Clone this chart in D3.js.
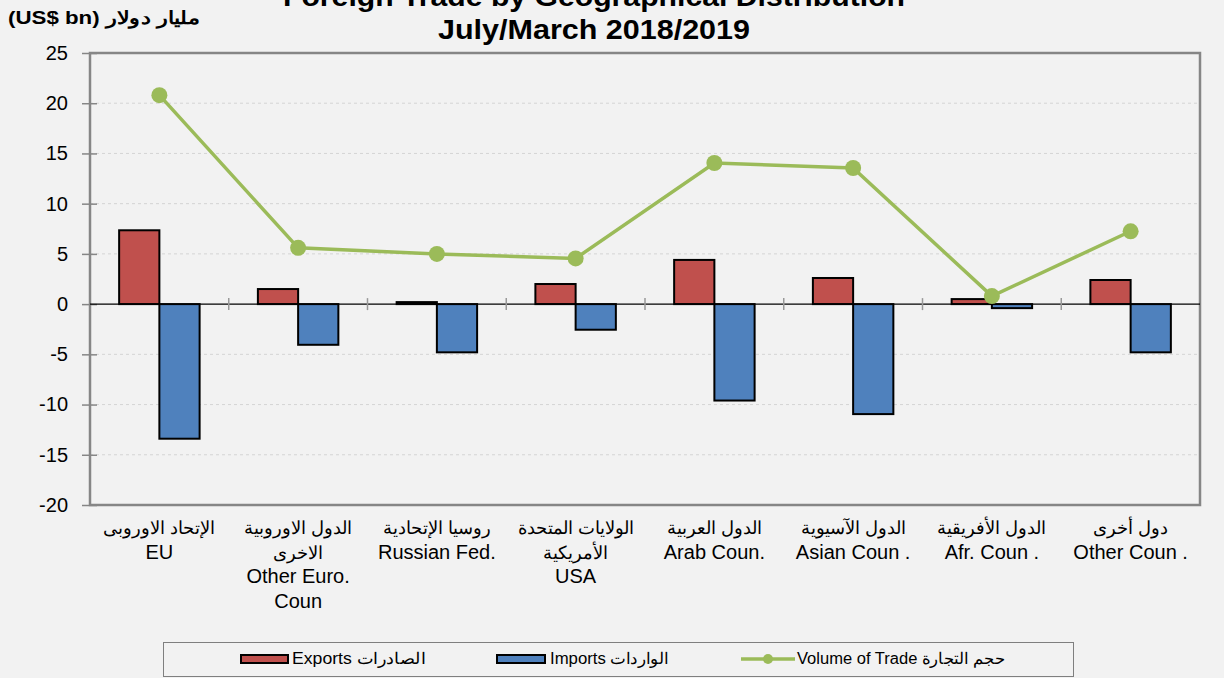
<!DOCTYPE html>
<html>
<head>
<meta charset="utf-8">
<script src="https://cdn.jsdelivr.net/npm/d3@7"></script>
<style>
  html, body { margin: 0; padding: 0; background: #f2f2f2; }
  svg { display: block; font-family: "Liberation Sans", Arial, sans-serif; }
</style>
</head>
<body>
<svg id="chart" width="1224" height="678"></svg>
<script>
// ---- data ----
const categories = ['EU', 'Other Euro', 'Russia', 'USA', 'Arab', 'Asian', 'Afr', 'Other'];
const categoryLabels = [
    ['الإتحاد الاوروبى', 'EU'],
    ['الدول الاوروبية', 'الاخرى', 'Other Euro.', 'Coun'],
    ['روسيا الإتحادية', 'Russian Fed.'],
    ['الولايات المتحدة', 'الأمريكية', 'USA'],
    ['الدول العربية', 'Arab Coun.'],
    ['الدول الآسيوية', 'Asian Coun .'],
    ['الدول الأفريقية', 'Afr. Coun .'],
    ['دول أخرى', 'Other Coun .']
];
const exportsVals = [7.35, 1.5, 0.2, 2.0, 4.4, 2.6, 0.5, 2.4];
const importsVals = [-13.4, -4.05, -4.8, -2.55, -9.6, -10.95, -0.4, -4.8];
const volumeVals = [20.8, 5.6, 5.0, 4.55, 14.05, 13.55, 0.8, 7.25];
const yTicks = [25, 20, 15, 10, 5, 0, -5, -10, -15, -20];

const colors = { exports: '#c0504d', imports: '#4f81bd', volume: '#9bbb59' };
const arabic = /[\u0600-\u06FF]/;

// ---- layout ----
const svg = d3.select('#chart');
const plot = { left: 90, right: 1200, top: 53, bottom: 505 };

const x = d3.scaleBand().domain(categories).range([plot.left, plot.right]).padding(0);
const y = d3.scaleLinear().domain([-20, 25]).range([plot.bottom, plot.top]);
const barW = x.bandwidth() * 0.29;
const cx = d => x(d) + x.bandwidth() / 2;

// title (first line runs off the top, as in the source)
const title = svg.append('g').attr('font-weight', 'bold').attr('font-size', 27)
    .attr('text-anchor', 'middle').attr('fill', '#000');
title.append('text').attr('x', 594).attr('y', 6)
    .attr('textLength', 622).attr('lengthAdjust', 'spacingAndGlyphs')
    .text('Foreign Trade by Geographical Distribution');
title.append('text').attr('x', 594).attr('y', 39)
    .attr('textLength', 312).attr('lengthAdjust', 'spacingAndGlyphs')
    .text('July/March 2018/2019');

// unit label
svg.append('text').attr('x', 8).attr('y', 24)
    .attr('font-size', 18).attr('font-weight', 'bold')
    .attr('textLength', 192).attr('lengthAdjust', 'spacingAndGlyphs')
    .text('(US$ bn) مليار دولار');

// gridlines
svg.append('g').selectAll('line').data(yTicks.filter(t => t !== 0 && t !== 25 && t !== -20)).join('line')
    .attr('x1', plot.left).attr('x2', plot.right)
    .attr('y1', d => y(d)).attr('y2', d => y(d))
    .attr('stroke', '#d4d4d4').attr('stroke-width', 1).attr('stroke-dasharray', '3,3');

// y axis
const yAxis = svg.append('g').attr('transform', `translate(${plot.left},0)`)
    .call(d3.axisLeft(y).tickValues(yTicks).tickSize(8).tickPadding(14).tickFormat(d => String(d)));
yAxis.select('.domain').remove();
yAxis.selectAll('.tick line').attr('stroke', '#868686').attr('stroke-width', 1.5).attr('x2', -8).attr('x1', 7);
yAxis.selectAll('.tick text').attr('font-size', 20).attr('fill', '#000')
    .attr('font-family', '"Liberation Sans", Arial, sans-serif');

// plot border
svg.append('rect').attr('x', plot.left).attr('y', plot.top)
    .attr('width', plot.right - plot.left).attr('height', plot.bottom - plot.top)
    .attr('fill', 'none').attr('stroke', '#868686').attr('stroke-width', 2.5);

// bars
const bars = svg.append('g').attr('stroke', '#000').attr('stroke-width', 2);
bars.selectAll('rect.exp').data(categories).join('rect').attr('class', 'exp')
    .attr('x', d => cx(d) - barW)
    .attr('width', barW)
    .attr('y', (d, i) => y(Math.max(0, exportsVals[i])))
    .attr('height', (d, i) => Math.abs(y(exportsVals[i]) - y(0)))
    .attr('fill', colors.exports);
bars.selectAll('rect.imp').data(categories).join('rect').attr('class', 'imp')
    .attr('x', d => cx(d))
    .attr('width', barW)
    .attr('y', (d, i) => y(Math.max(0, importsVals[i])))
    .attr('height', (d, i) => Math.abs(y(importsVals[i]) - y(0)))
    .attr('fill', colors.imports);

// zero line + category ticks
svg.append('line').attr('x1', plot.left).attr('x2', plot.right)
    .attr('y1', y(0)).attr('y2', y(0)).attr('stroke', '#000').attr('stroke-width', 1.2);
svg.append('g').selectAll('line').data(categories.slice(1)).join('line')
    .attr('x1', d => x(d)).attr('x2', d => x(d))
    .attr('y1', y(0) - 6).attr('y2', y(0) + 6)
    .attr('stroke', '#999').attr('stroke-width', 1.5);

// volume line
const line = d3.line().x((d, i) => cx(categories[i])).y(d => y(d));
svg.append('path').datum(volumeVals).attr('d', line)
    .attr('fill', 'none').attr('stroke', colors.volume).attr('stroke-width', 3.5);
svg.append('g').selectAll('circle').data(volumeVals).join('circle')
    .attr('cx', (d, i) => cx(categories[i])).attr('cy', d => y(d))
    .attr('r', 8).attr('fill', colors.volume);

// category labels (Arabic lines a bit smaller than Latin ones)
const labelG = svg.append('g').attr('text-anchor', 'middle').attr('fill', '#000');
categories.forEach((c, i) => {
    categoryLabels[i].forEach((t, j) => {
        labelG.append('text').attr('x', cx(c)).attr('y', 534 + j * 24.5)
            .attr('font-size', arabic.test(t) ? 18 : 20).text(t);
    });
});

// legend
const lg = svg.append('g').attr('font-size', 16);
lg.append('rect').attr('x', 163.5).attr('y', 642.5).attr('width', 910).attr('height', 34)
    .attr('fill', 'none').attr('stroke', '#7f7f7f').attr('stroke-width', 1);
const ly = 659;
lg.append('rect').attr('x', 241).attr('y', ly - 4).attr('width', 47).attr('height', 8)
    .attr('fill', colors.exports).attr('stroke', '#000').attr('stroke-width', 2);
lg.append('text').attr('x', 292).attr('y', ly + 5)
    .attr('textLength', 133).attr('lengthAdjust', 'spacingAndGlyphs').text('Exports  الصادرات');
lg.append('rect').attr('x', 497).attr('y', ly - 4).attr('width', 48).attr('height', 8)
    .attr('fill', colors.imports).attr('stroke', '#000').attr('stroke-width', 2);
lg.append('text').attr('x', 550).attr('y', ly + 5)
    .attr('textLength', 118).attr('lengthAdjust', 'spacingAndGlyphs').text('Imports الواردات');
lg.append('line').attr('x1', 741).attr('x2', 795).attr('y1', ly).attr('y2', ly)
    .attr('stroke', colors.volume).attr('stroke-width', 3.5);
lg.append('circle').attr('cx', 768).attr('cy', ly).attr('r', 5).attr('fill', colors.volume);
lg.append('text').attr('x', 797).attr('y', ly + 5)
    .attr('textLength', 208).attr('lengthAdjust', 'spacingAndGlyphs').text('Volume of Trade حجم التجارة');
</script>
</body>
</html>
